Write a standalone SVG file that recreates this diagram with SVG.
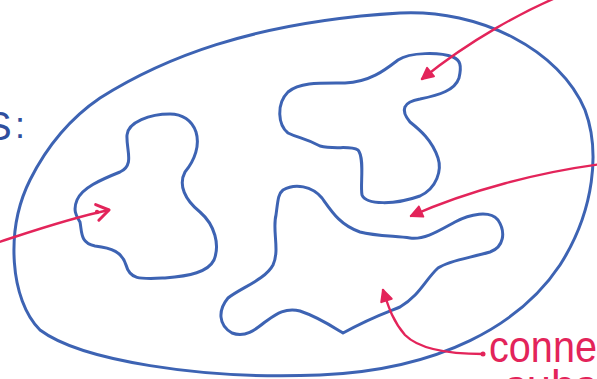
<svg xmlns="http://www.w3.org/2000/svg" width="597" height="379" viewBox="0 0 597 379">
<style>
.set{fill:none;stroke:#3d63b3;stroke-width:3;stroke-linecap:round;stroke-linejoin:round}
.arr{fill:none;stroke:#e3245a;stroke-width:2.4;stroke-linecap:round}
.lbl{font-family:"Liberation Sans",Arial,sans-serif;fill:#e3245a}
.lbl2{font-family:"Liberation Sans",Arial,sans-serif;fill:#2f4f9e}
</style>
<defs>
<marker id="tri" viewBox="-13 -7 15 14" refX="0" refY="0" markerWidth="15" markerHeight="14" markerUnits="userSpaceOnUse" orient="auto">
<path d="M0,0 L-11,-5.5 L-11,5.5 Z" fill="#e3245a" stroke="#e3245a" stroke-width="2" stroke-linejoin="round"/>
</marker>
<marker id="chev" viewBox="-14 -10 16 20" refX="0" refY="0" markerWidth="16" markerHeight="20" markerUnits="userSpaceOnUse" orient="auto">
<path d="M-12,-8 L0,0 L-12,8" fill="none" stroke="#e3245a" stroke-width="3" stroke-linecap="round" stroke-linejoin="round"/>
</marker>
</defs>
<rect width="597" height="379" fill="#ffffff"/>
<g id="universe">
<path class="set" d="M100,98 C160,60 250,22 400,13 C480,9 560,50 585,110 C600,150 595,210 560,265 C520,325 440,370 320,375 C200,380 80,360 40,330 C10,300 5,230 30,180 C50,140 75,115 100,98 Z"/>
</g>
<g id="component-left">
<path class="set" d="M170,114 C150,114 128,122 127,135 C126,150 135,165 120,172 C100,180 82,188 77,200 C72,212 78,218 80,222 C82,232 80,243 95,246 C112,248 122,252 126,265 C130,280 140,279 165,278 C190,276 208,272 214,260 C220,245 215,225 200,212 C185,200 178,185 185,172 C195,160 200,145 196,132 C192,120 182,114 170,114 Z"/>
</g>
<g id="component-top">
<path class="set" d="M453,57 C440,52 410,52 398,60 C385,70 370,82 345,83 C320,83 300,82 288,92 C276,104 278,125 288,133 C298,138 305,138 320,146 C335,150 350,145 358,150 C365,158 360,185 362,195 C366,205 395,205 420,196 C437,188 442,170 438,158 C432,140 420,130 410,122 C400,110 403,102 420,99 C440,95 455,90 459,78 C462,65 460,60 453,57 Z"/>
</g>
<g id="component-bottom">
<path class="set" d="M283,190 C295,183 312,186 322,198 C332,212 340,225 360,232 C375,236 395,236 410,238 C425,240 440,230 455,222 C470,214 490,210 498,220 C506,232 504,247 490,252 C470,258 450,260 438,268 C425,280 420,295 400,307 C385,313 370,318 343,333 C330,325 318,317 300,311 C285,307 275,315 265,322 C255,330 245,338 232,333 C218,325 218,310 228,298 C240,288 265,280 273,265 C280,250 272,230 276,215 C278,200 278,194 283,190 Z"/>
</g>
<g id="connectors">
<path class="arr" d="M-4,243 C30,232 70,218 109,210" marker-end="url(#chev)"/>
<circle cx="97" cy="212" r="2.2" fill="#e3245a"/>
<path class="arr" d="M565,-6 C525,10 470,40 422,79" marker-end="url(#tri)"/>
<path class="arr" d="M602,164 C540,172 470,190 411,216" marker-end="url(#tri)"/>
<path class="arr" d="M483,354 C450,354 420,350 405,335 C392,320 388,305 383,290" marker-end="url(#tri)"/>
<circle cx="483" cy="354" r="2.5" fill="#e3245a"/>
</g>
<g id="labels">
<text class="lbl" x="489" y="362" font-size="44" textLength="108" lengthAdjust="spacingAndGlyphs">conne</text>
<text class="lbl" x="505" y="401" font-size="44" textLength="92" lengthAdjust="spacingAndGlyphs">subs</text>
<text class="lbl2" x="-15" y="140" font-size="40">S</text>
<text class="lbl2" x="15" y="138" font-size="36">:</text>
</g>
</svg>
